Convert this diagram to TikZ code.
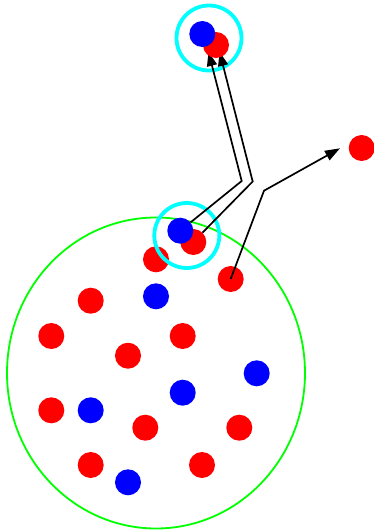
\documentclass[tikz,border=0pt]{standalone}
\usetikzlibrary{arrows.meta}
\definecolor{ringcyan}{RGB}{0,255,255}
\definecolor{regiongreen}{RGB}{0,255,0}
\definecolor{dotred}{RGB}{255,0,0}
\definecolor{dotblue}{RGB}{0,0,255}
\begin{document}
\begin{tikzpicture}[x=1pt,y=-1pt,
  dot/.style={circle,minimum size=26pt,inner sep=0pt,fill=#1},
  ring/.style={circle,draw=ringcyan,line width=3.8pt,minimum size=65pt,inner sep=0pt},
  edge/.style={line width=1.7pt,black},
  tipA/.style={-{Triangle[length=14pt,width=10pt]}},
  tipB/.style={-{Triangle[length=15pt,width=10.5pt]}}]
\useasboundingbox (0,0) rectangle (374,531);
% outer region
\draw[regiongreen,line width=1.8pt] (156,373) ellipse [x radius=149, y radius=155.5];
% dots
\node[dot=dotred] (r1) at (193.3,242) {};
\node[dot=dotblue] (b1) at (180.3,230.7) {};
\node[dot=dotred] (r2) at (156,259.3) {};
\node[dot=dotred] (r3) at (230.7,279) {};
\node[dot=dotred] (r4) at (90.7,300.7) {};
\node[dot=dotred] (r5) at (51.3,336) {};
\node[dot=dotred] (r6) at (182.7,336) {};
\node[dot=dotred] (r7) at (128,355.7) {};
\node[dot=dotred] (r8) at (51.3,410.3) {};
\node[dot=dotred] (r9) at (145.3,427.7) {};
\node[dot=dotred] (r10) at (239.3,427.7) {};
\node[dot=dotred] (r11) at (90.7,465) {};
\node[dot=dotred] (r12) at (202,465) {};
\node[dot=dotblue] (b2) at (156,296.3) {};
\node[dot=dotblue] (b3) at (256.7,373.3) {};
\node[dot=dotblue] (b4) at (182.7,392.7) {};
\node[dot=dotblue] (b5) at (90.7,410.3) {};
\node[dot=dotblue] (b6) at (128,482.3) {};
% right dot
\node[dot=dotred] (rr) at (361.7,148) {};
% rings
\node[ring] (ring1) at (186.8,235.5) {};
\node[ring] (ring2) at (209,38) {};
% connectors
\coordinate (c1) at (241.7,181);
\coordinate (c2) at (252.7,181.5);
\coordinate (t1) at (208.5,52);
\coordinate (t2) at (219.6,52);
\coordinate (c3) at (264,190.7);
\coordinate (t3) at (340,148.3);
\draw[edge,tipA] (b1) -- (c1) -- (t1);
\draw[edge,tipA] (r1) -- (c2) -- (t2);
\draw[edge,tipB] (r3.center) -- (c3) -- (t3);
% top pair, drawn over the arrow tips
\node[dot=dotred] (tr) at (216,45) {};
\node[dot=dotblue] (tb) at (202.3,34) {};
\end{tikzpicture}
\end{document}
